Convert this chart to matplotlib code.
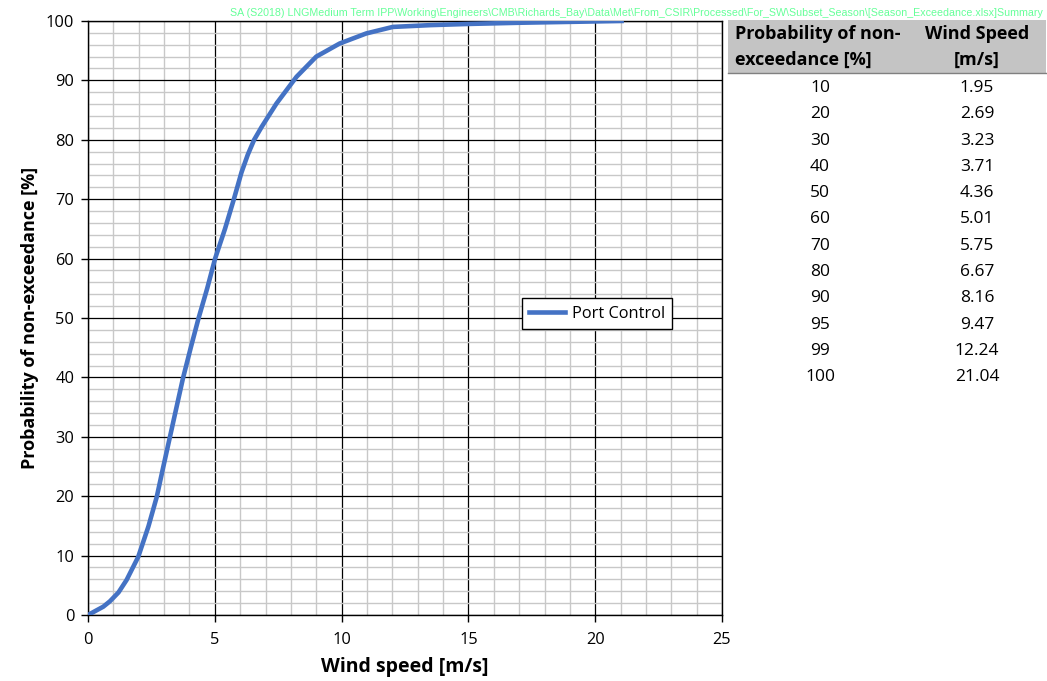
import numpy as np
import matplotlib.pyplot as plt
from matplotlib.ticker import MultipleLocator

plt.rcParams['font.family'] = ['Open Sans', 'DejaVu Sans']

# curve (wind speed [m/s], non-exceedance [%])
curve_speed = [0.0, 0.34, 0.6, 0.86, 1.2, 1.52, 1.98, 2.38, 2.71, 2.97, 3.23, 3.49, 3.74,
               4.05, 4.36, 4.7, 5.01, 5.4, 5.75, 6.05, 6.3, 6.55, 6.85, 7.43, 8.22, 9.0,
               9.92, 10.97, 12.02, 13.5, 15.0, 17.0, 19.0, 21.04]
curve_prob = [0.0, 0.8, 1.4, 2.3, 3.8, 5.9, 9.8, 14.9, 19.9, 25.0, 30.0, 35.0, 39.8,
              45.0, 50.0, 55.0, 60.0, 65.0, 70.0, 74.5, 77.5, 80.0, 82.2, 86.1, 90.6, 94.0,
              96.2, 97.9, 99.0, 99.3, 99.5, 99.7, 99.85, 100.0]

# summary table
table_prob = ['10', '20', '30', '40', '50', '60', '70', '80', '90', '95', '99', '100']
table_speed = ['1.95', '2.69', '3.23', '3.71', '4.36', '5.01', '5.75', '6.67', '8.16',
               '9.47', '12.24', '21.04']

path_text = ('SA (S2018) LNGMedium Term IPP\\Working\\Engineers\\CMB\\Richards_Bay\\Data\\Met\\'
             'From_CSIR\\Processed\\For_SW\\Subset_Season\\[Season_Exceedance.xlsx]Summary')

fig = plt.figure(figsize=(10.47, 6.81), dpi=100)
ax = fig.add_axes([0.0841, 0.0969, 0.6055, 0.8723])

ax.plot(curve_speed, curve_prob, color='#4472C4', lw=3.3, label='Port Control', zorder=5)

ax.set_xlim(0, 25)
ax.set_ylim(0, 100)
ax.xaxis.set_major_locator(MultipleLocator(5))
ax.xaxis.set_minor_locator(MultipleLocator(1))
ax.yaxis.set_major_locator(MultipleLocator(10))
ax.yaxis.set_minor_locator(MultipleLocator(2))
ax.grid(which='minor', color='#c8c8c8', lw=1)
ax.grid(which='major', color='black', lw=0.9)
ax.set_axisbelow(True)
ax.tick_params(which='major', direction='out', length=5, width=1, labelsize=11.8,
               colors='black')
ax.tick_params(axis='y', pad=5)
ax.tick_params(axis='x', pad=7)
ax.tick_params(which='minor', length=0)
for s in ax.spines.values():
    s.set_color('black')
    s.set_linewidth(1)

ax.set_xlabel('Wind speed [m/s]', fontsize=14, fontweight='bold', labelpad=7)
ax.set_ylabel('Probability of non-exceedance [%]', fontsize=13, fontweight='bold', labelpad=5)

leg = ax.legend(loc='center left', bbox_to_anchor=(0.671, 0.507), fontsize=11.8,
                fancybox=False, framealpha=1, handlelength=2.2, handletextpad=0.4,
                borderpad=0.45)
leg.get_frame().set_edgecolor('black')
leg.get_frame().set_linewidth(1)

fig.text(0.996, 0.981, path_text, ha='right', va='center', fontsize=7.7, color='#66ff99',
         family='Liberation Sans')

# table header
W, H = 1047, 681
fig.patches.append(plt.Rectangle((728 / W, 1 - 73 / H), (1046 - 728) / W, 53 / H,
                                 transform=fig.transFigure, facecolor='#c4c4c4',
                                 edgecolor='none'))
fig.add_artist(plt.Line2D([728 / W, 1046 / W], [1 - 73 / H] * 2, color='#808080', lw=1,
                          transform=fig.transFigure))
fig.text(735 / W, 1 - 34 / H, 'Probability of non-', ha='left', va='center',
         fontsize=13, fontweight='bold')
fig.text(735 / W, 1 - 60 / H, 'exceedance [%]', ha='left', va='center',
         fontsize=13, fontweight='bold')
fig.text(977 / W, 1 - 34 / H, 'Wind Speed', ha='center', va='center',
         fontsize=13, fontweight='bold')
fig.text(977 / W, 1 - 60 / H, '[m/s]', ha='center', va='center',
         fontsize=13, fontweight='bold')
for i, (p, v) in enumerate(zip(table_prob, table_speed)):
    y = 1 - (88 + i * 26.3) / H
    fig.text(820 / W, y, p, ha='center', va='center', fontsize=12.5)
    fig.text(977 / W, y, v, ha='center', va='center', fontsize=12.5)

fig.savefig('out.png', dpi=100)
